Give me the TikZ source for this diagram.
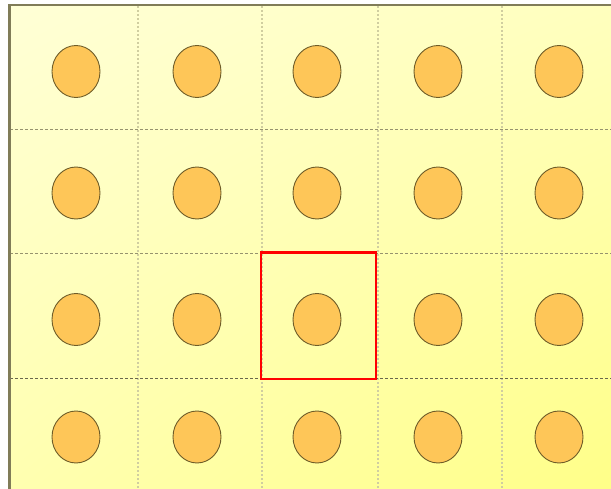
\documentclass[tikz,border=0pt]{standalone}
\usepackage{tikz}
\usetikzlibrary{shapes.geometric,shadings}

\definecolor{bgTL}{RGB}{255,255,214}
\definecolor{bgTR}{RGB}{255,255,190}
\definecolor{bgBL}{RGB}{255,255,176}
\definecolor{bgBR}{RGB}{255,255,136}
\definecolor{dotfill}{RGB}{254,198,88}
\definecolor{dotline}{RGB}{110,92,40}
\definecolor{frameline}{RGB}{128,124,88}
\definecolor{gridv}{RGB}{208,206,160}
\definecolor{gridh}{RGB}{150,146,110}

\begin{document}
\begin{tikzpicture}[
    x=1pt, y=-1pt,
    dot/.style={draw=dotline, ellipse, line width=0.9pt, fill=dotfill,
                minimum width=48pt, minimum height=52pt, inner sep=0pt},
    vgrid/.style={gridv, line width=2pt, dash pattern=on 2pt off 2pt},
    hgrid/.style={gridh, line width=0.8pt, dash pattern=on 3pt off 2pt},
    sel/.style={draw=red, line width=2.6pt, inner sep=0pt},
]
\useasboundingbox (0,0) rectangle (611,489);
\fill[white] (0,0) rectangle (611,489);
\shade[upper left=bgTL, upper right=bgTR, lower left=bgBL, lower right=bgBR]
    (9,5) rectangle (611,489);

% cell boundaries
\foreach \gx in {137.5,261.5,377.5,502} {
    \draw[vgrid] (\gx,6) -- (\gx,489);
}
\draw[hgrid] (10,129) -- (611,129);
\draw[hgrid] (10,253) -- (611,253);
\draw[hgrid, gridh!70!black, line width=1pt] (10,378) -- (611,378);

% frame
\draw[frameline, line width=1.2pt] (8,5) -- (611,5);
\draw[frameline, line width=3pt] (9,4.4) -- (9,489);

% dots
\foreach \gx [count=\i] in {76,197,317,438,559} {
    \foreach \gy [count=\j] in {71.5,193,319.5,437} {
        \node[dot] (d\j\i) at (\gx,\gy) {};
    }
}

% highlighted cell
\node[sel, minimum width=115pt, minimum height=126.5pt] (cell) at (318.5,315.7) {};
\end{tikzpicture}
\end{document}
